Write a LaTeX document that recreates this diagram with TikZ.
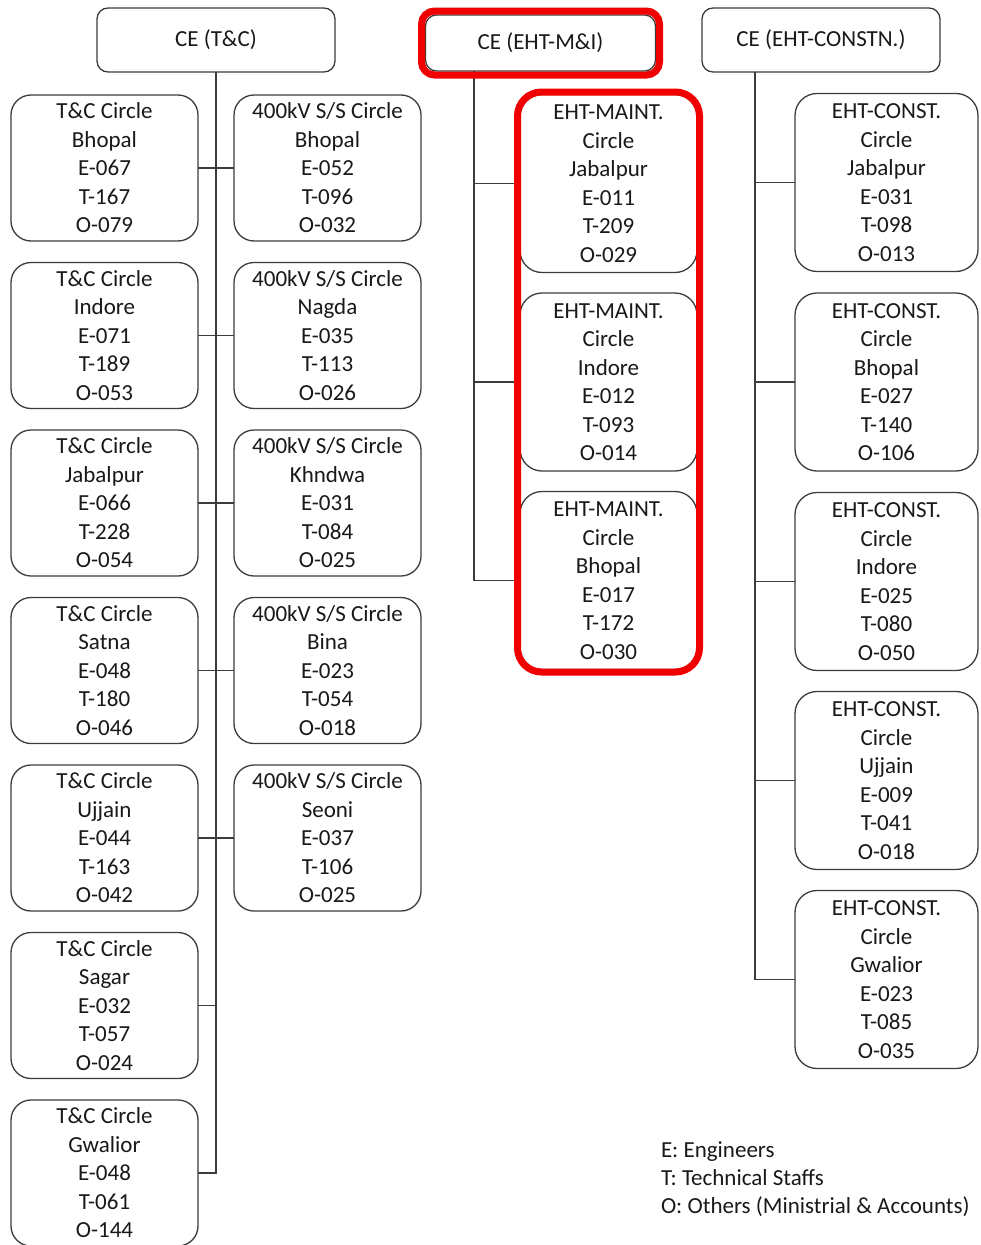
\documentclass[tikz,border=0pt]{standalone}
\usepackage{fontspec}
\setmainfont{Carlito}
\usetikzlibrary{fit}
\definecolor{linec}{RGB}{60,60,60}
\definecolor{textc}{RGB}{25,25,25}
\definecolor{hlred}{RGB}{240,0,0}
\begin{document}
\begin{tikzpicture}[x=1pt,y=-1pt,
  box/.style={draw=linec, line width=1.3pt, fill=white, inner sep=0pt, outer sep=0pt,
    align=center, text=textc, font=\fontsize{23}{28.5}\selectfont},
  headbox/.style={box, rounded corners=11pt, minimum width=238pt, minimum height=64pt},
  tcbox/.style={box, rounded corners=20pt, minimum width=187pt, minimum height=146pt},
  ehtbox/.style={box, rounded corners=22pt, minimum width=180pt, minimum height=178pt},
  conn/.style={draw=linec, line width=1.3pt},
  hl/.style={draw=hlred, line width=7pt, inner sep=#1},
  legend/.style={inner sep=0pt, outer sep=0pt, align=left, text=textc, font=\fontsize{23}{28}\selectfont}
]
\useasboundingbox (0,0) rectangle (980,1245);

% heads
\node[headbox] (tc) at (216,40) {CE (T\&C)};
\node[headbox, minimum width=230pt, minimum height=56pt] (mi) at (540.5,43) {CE (EHT-M\&I)};
\node[headbox] (ce) at (821,40) {CE (EHT-CONSTN.)};

% T&C circles
\node[tcbox] (l1) at (104.5,168)    {T\&C Circle\\Bhopal\\E-067\\T-167\\O-079};
\node[tcbox] (l2) at (104.5,335.5)  {T\&C Circle\\Indore\\E-071\\T-189\\O-053};
\node[tcbox] (l3) at (104.5,503)    {T\&C Circle\\Jabalpur\\E-066\\T-228\\O-054};
\node[tcbox] (l4) at (104.5,670.5)  {T\&C Circle\\Satna\\E-048\\T-180\\O-046};
\node[tcbox] (l5) at (104.5,838)    {T\&C Circle\\Ujjain\\E-044\\T-163\\O-042};
\node[tcbox] (l6) at (104.5,1005.5) {T\&C Circle\\Sagar\\E-032\\T-057\\O-024};
\node[tcbox] (l7) at (104.5,1173)   {T\&C Circle\\Gwalior\\E-048\\T-061\\O-144};

% 400kV circles
\node[tcbox] (r1) at (327.5,168)   {400kV S/S Circle\\Bhopal\\E-052\\T-096\\O-032};
\node[tcbox] (r2) at (327.5,335.5) {400kV S/S Circle\\Nagda\\E-035\\T-113\\O-026};
\node[tcbox] (r3) at (327.5,503)   {400kV S/S Circle\\Khndwa\\E-031\\T-084\\O-025};
\node[tcbox] (r4) at (327.5,670.5) {400kV S/S Circle\\Bina\\E-023\\T-054\\O-018};
\node[tcbox] (r5) at (327.5,838)   {400kV S/S Circle\\Seoni\\E-037\\T-106\\O-025};

% EHT maintenance circles
\node[ehtbox, minimum width=177pt] (m1) at (608.5,183.5) {EHT-MAINT.\\Circle\\Jabalpur\\E-011\\T-209\\O-029};
\node[ehtbox, minimum width=177pt] (m2) at (608.5,382)   {EHT-MAINT.\\Circle\\Indore\\E-012\\T-093\\O-014};
\node[ehtbox, minimum width=177pt] (m3) at (608.5,580.5) {EHT-MAINT.\\Circle\\Bhopal\\E-017\\T-172\\O-030};

% EHT construction circles
\node[ehtbox, minimum width=183pt] (c1) at (886.5,182.5) {EHT-CONST.\\Circle\\Jabalpur\\E-031\\T-098\\O-013};
\node[ehtbox, minimum width=183pt] (c2) at (886.5,382)   {EHT-CONST.\\Circle\\Bhopal\\E-027\\T-140\\O-106};
\node[ehtbox, minimum width=183pt] (c3) at (886.5,581.5) {EHT-CONST.\\Circle\\Indore\\E-025\\T-080\\O-050};
\node[ehtbox, minimum width=183pt] (c4) at (886.5,780.5) {EHT-CONST.\\Circle\\Ujjain\\E-009\\T-041\\O-018};
\node[ehtbox, minimum width=183pt] (c5) at (886.5,979.5) {EHT-CONST.\\Circle\\Gwalior\\E-023\\T-085\\O-035};

% trunk start points
\path (mi.south west) ++(48.5,0) coordinate (mtrunk);
\path (ce.south west) ++(53,0) coordinate (ctrunk);

% connectors: T&C
\draw[conn] (tc.south) |- (l7.east);
\draw[conn] (l1.east) -- (r1.west);
\draw[conn] (l2.east) -- (r2.west);
\draw[conn] (l3.east) -- (r3.west);
\draw[conn] (l4.east) -- (r4.west);
\draw[conn] (l5.east) -- (r5.west);
\draw[conn] (l6.east) -- (l6.east -| tc.south);

% connectors: EHT-M&I
\draw[conn] (mtrunk) |- (m3.west);
\draw[conn] (m1.west) -- (m1.west -| mtrunk);
\draw[conn] (m2.west) -- (m2.west -| mtrunk);

% connectors: EHT-CONSTN
\draw[conn] (ctrunk) |- (c5.west);
\draw[conn] (c1.west) -- (c1.west -| ctrunk);
\draw[conn] (c2.west) -- (c2.west -| ctrunk);
\draw[conn] (c3.west) -- (c3.west -| ctrunk);
\draw[conn] (c4.west) -- (c4.west -| ctrunk);

% red highlights
\node[hl=4pt, rounded corners=13pt, fit=(mi)] (hlhead) {};
\node[hl=2.5pt, rounded corners=24pt, fit=(m1)(m3)] (hlcol) {};

% legend
\node[legend, anchor=west] (leg) at (661,1179) {E: Engineers\\T: Technical Staffs\\O: Others (Ministrial \& Accounts)};
\end{tikzpicture}
\end{document}
